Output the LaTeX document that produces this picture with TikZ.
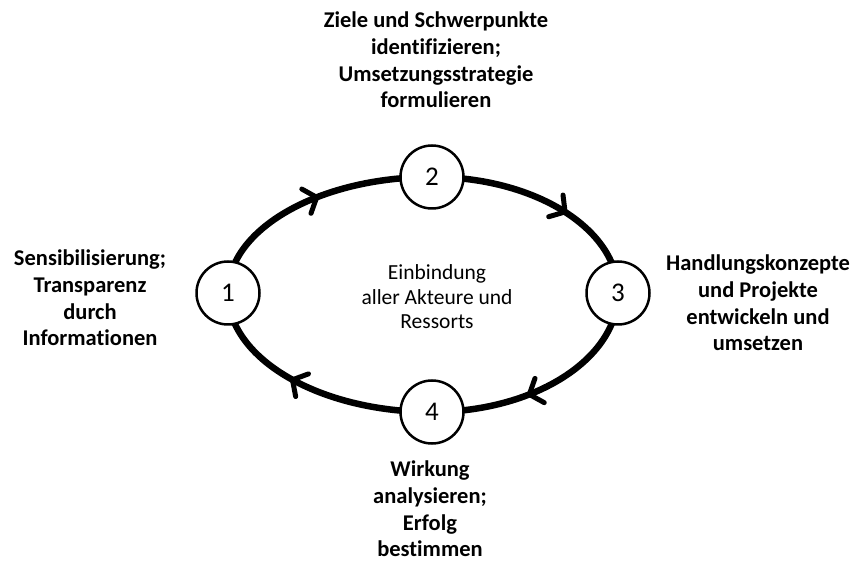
\documentclass[tikz,border=0pt]{standalone}
\usepackage{fontspec}
\setmainfont{Carlito}[Ligatures=NoCommon]
\usetikzlibrary{arrows.meta, decorations.markings, backgrounds}

\begin{document}
\begin{tikzpicture}[x=1pt, y=1pt,
  station/.style={circle, draw=black, line width=2.5pt, fill=white, minimum size=63pt, inner sep=0pt, font=\fontsize{27}{30}\selectfont},
  phase/.style={align=center, font=\bfseries\fontsize{22.5}{26.7}\selectfont},
  cycle/.style={line width=6.5pt, postaction={decorate},
    decoration={markings, mark=at position #1 with {\arrow[line width=5pt]{Straight Barb[length=11pt, width=26pt, round]}}}}]

% Frame
\useasboundingbox (0,0) rectangle (867,581);

% Stations
\node[station] (c1) at (228,288) {1};
\node[station] (c2) at (432,404) {2};
\node[station] (c3) at (618,288) {3};
\node[station] (c4) at (432,169) {4};

% Cycle
\begin{pgfonlayer}{background}
\draw[cycle=0.55] (c1.center) .. controls +(0,0.552*116) and +(-0.552*204,0) .. (c2.center);
\draw[cycle=0.59] (c2.center) .. controls +(0.552*186,0) and +(0,0.552*116) .. (c3.center);
\draw[cycle=0.60] (c3.center) .. controls +(0,-0.552*119) and +(0.552*186,0) .. (c4.center);
\draw[cycle=0.57] (c4.center) .. controls +(-0.552*204,0) and +(0,-0.552*119) .. (c1.center);
\end{pgfonlayer}

% Centre text
\node[align=center, font=\fontsize{21.5}{24.5}\selectfont] (core) at (437,284) {Einbindung\\aller Akteure und\\Ressorts};

% Phase labels
\node[phase] (lbl1) at (90,283) {Sensibilisierung;\\Transparenz\\durch\\Informationen};
\node[phase] (lbl2) at (436,521) {Ziele und Schwerpunkte\\identifizieren;\\Umsetzungsstrategie\\formulieren};
\node[phase] (lbl3) at (758,278) {Handlungskonzepte\\und Projekte\\entwickeln und\\umsetzen};
\node[phase] (lbl4) at (430,72) {Wirkung\\analysieren;\\Erfolg\\bestimmen};

\end{tikzpicture}
\end{document}
